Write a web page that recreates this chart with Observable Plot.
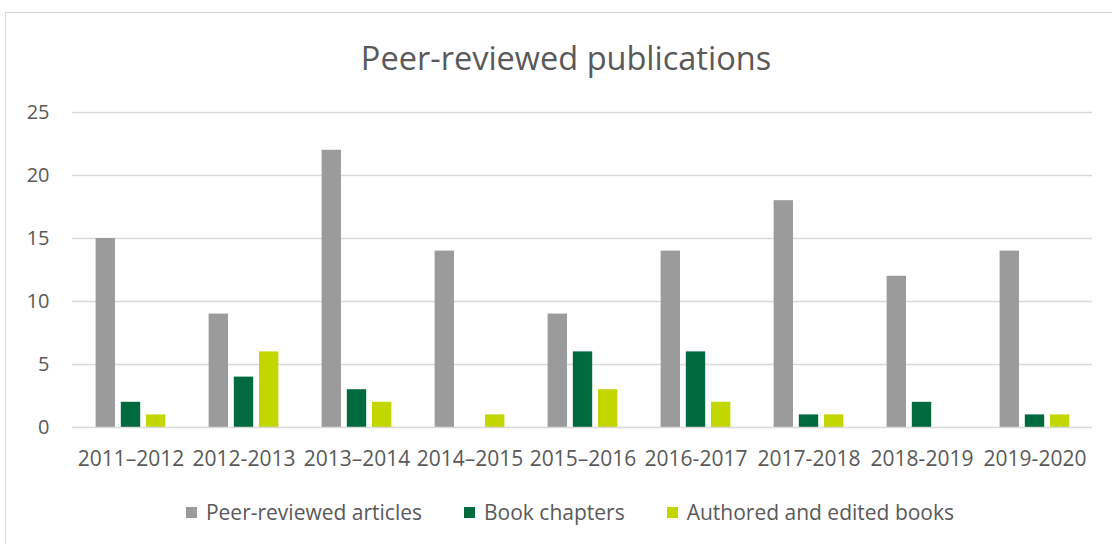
<!DOCTYPE html>
<html>
<head>
<meta charset="utf-8">
<script src="https://cdn.jsdelivr.net/npm/d3@7"></script>
<script src="https://cdn.jsdelivr.net/npm/@observablehq/plot@0.6"></script>
<style>
  html, body { margin: 0; padding: 0; background: #fff; }
  body { width: 1112px; height: 544px; position: relative; overflow: hidden; font-family: "Open Sans", sans-serif; }
  #frame { position: absolute; left: 5px; top: 12px; width: 1200px; height: 600px; border: 1px solid #d9d9d9; box-sizing: border-box; }
  #title { position: absolute; left: 166px; width: 800px; top: 35px; text-align: center; font-size: 32.5px; color: #595959; line-height: 46px; }
  #chart { position: absolute; left: 0; top: 90px; }
  #legend { position: absolute; left: 0; top: 497px; width: 1112px; display: flex; justify-content: center; padding-left: 28px; box-sizing: border-box; font-size: 21px; color: #595959; line-height: 30px; }
  .item { display: flex; align-items: center; margin: 0 21px; }
  .sw { width: 11px; height: 11px; margin-right: 9px; }
</style>
</head>
<body>
<div id="frame"></div>
<div id="title">Peer-reviewed publications</div>
<div id="chart"></div>
<div id="legend"></div>
<script>
const categories = ["2011–2012", "2012-2013", "2013–2014", "2014–2015", "2015–2016", "2016-2017", "2017-2018", "2018-2019", "2019-2020"];
const seriesNames = ["Peer-reviewed articles", "Book chapters", "Authored and edited books"];
const articles = [15, 9, 22, 14, 9, 14, 18, 12, 14];
const chapters = [2, 4, 3, 0, 6, 6, 1, 2, 1];
const books = [1, 6, 2, 1, 3, 2, 1, 0, 1];
const yTicks = [0, 5, 10, 15, 20, 25];
const colors = ["#9b9b9b", "#006a3f", "#c2d600"];

const seriesValues = [articles, chapters, books];
const data = [];
seriesNames.forEach((s, i) => {
  categories.forEach((c, j) => data.push({category: c, series: s, value: seriesValues[i][j]}));
});

const width = 1112, height = 390;
const marginLeft = 72, marginRight = 20, marginTop = 22, marginBottom = 53;
const bandW = (width - marginLeft - marginRight) / categories.length;
const barW = 19.7, barStep = 25.2;
const inset = (bandW - barW) / 2;
const offsets = [-barStep, 0, barStep];

const marks = [
  Plot.ruleY(yTicks.filter(t => t > 0), {stroke: "#d9d9d9", strokeWidth: 1.3}),
  ...seriesNames.map((s, i) => Plot.barY(data.filter(d => d.series === s), {
    x: "category", y: "value", fill: "series", dx: offsets[i], insetLeft: inset, insetRight: inset
  })),
  Plot.ruleY([0], {stroke: "#d9d9d9", strokeWidth: 1.6}),
  Plot.axisY({ticks: yTicks, tickSize: 0, tickPadding: 23, label: null, fill: "#595959", fontSize: 20}),
  Plot.axisX({tickSize: 0, tickPadding: 24, label: null, fill: "#595959", fontSize: 21})
];

const chart = Plot.plot({
  width, height, marginLeft, marginRight, marginTop, marginBottom,
  style: {fontFamily: "Open Sans, sans-serif", fontSize: "20px", color: "#595959", background: "transparent", overflow: "visible"},
  x: {type: "band", domain: categories, padding: 0},
  y: {domain: [0, 25]},
  color: {domain: seriesNames, range: colors},
  marks
});
document.getElementById("chart").appendChild(chart);

const legend = document.getElementById("legend");
seriesNames.forEach((s, i) => {
  const item = document.createElement("div");
  item.className = "item";
  const sw = document.createElement("div");
  sw.className = "sw";
  sw.style.background = colors[i];
  const t = document.createElement("span");
  t.textContent = s;
  item.appendChild(sw); item.appendChild(t);
  legend.appendChild(item);
});
</script>
</body>
</html>
